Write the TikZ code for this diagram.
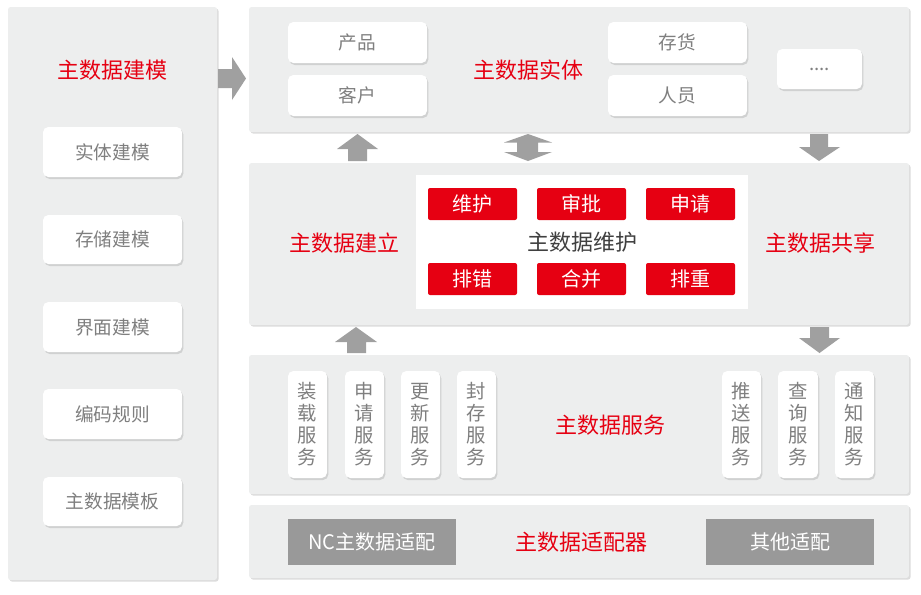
\documentclass[tikz,border=0pt]{standalone}
\usepackage{fontspec}
\setmainfont{Noto Sans CJK SC}
\usetikzlibrary{fit,shadows}
\definecolor{panelgray}{HTML}{EDEEEE}
\definecolor{txtgray}{HTML}{7F7F7F}
\definecolor{darktxt}{HTML}{404040}
\definecolor{mdred}{HTML}{E60012}
\definecolor{arrgray}{HTML}{A0A0A0}
\definecolor{adgray}{HTML}{999999}
\begin{document}
\begin{tikzpicture}[x=0.75pt,y=-0.75pt,
  panel/.style={fill=panelgray, rounded corners=2pt, inner sep=0pt,
    drop shadow={shadow xshift=1.2pt, shadow yshift=-1.2pt, opacity=0.3, fill=black!45}},
  wbox/.style={fill=white, rounded corners=4pt, inner sep=0pt,
    drop shadow={shadow xshift=1pt, shadow yshift=-1.5pt, opacity=0.12, fill=black}},
  redbtn/.style={fill=mdred, rounded corners=1.5pt, inner sep=0pt},
  adbox/.style={fill=adgray, inner sep=0pt},
  title/.style={text=mdred, font=\fontsize{16.5}{19}\selectfont, inner sep=0pt},
  gtext/.style={text=txtgray, font=\fontsize{14}{16}\selectfont, inner sep=0pt},
  vtext/.style={text=txtgray, font=\fontsize{14.5}{16.5}\selectfont, align=center, inner sep=0pt},
  btext/.style={text=white, font=\fontsize{15}{17}\selectfont, inner sep=0pt},
  arr/.style={fill=arrgray}
]
\useasboundingbox[fill=white] (0,0) rectangle (921,594);

% left panel
\node[panel, fit={(8,7) (217,580)}] (left) {};
\node[title] (lt) at (112,70) {主数据建模};
\node[wbox, fit={(43,127) (182,177)}] (m1) {};
\node[gtext] at (m1) {实体建模};
\node[wbox, fit={(43,215) (182,264)}] (m2) {};
\node[gtext] at (m2) {存储建模};
\node[wbox, fit={(43,302) (182,352)}] (m3) {};
\node[gtext] at (m3) {界面建模};
\node[wbox, fit={(43,389) (182,439)}] (m4) {};
\node[gtext] at (m4) {编码规则};
\node[wbox, fit={(43,477) (182,526)}] (m5) {};
\node[gtext] at (m5) {主数据模板};

% entity panel
\node[panel, fit={(249,7) (909,132)}] (ent) {};
\node[title] (et) at (528,70) {主数据实体};
\node[wbox, fit={(288,22) (427,63)}] (e1) {};
\node[gtext] at (e1) {产品};
\node[wbox, fit={(288,75) (427,116)}] (e2) {};
\node[gtext] at (e2) {客户};
\node[wbox, fit={(608,22) (747,63)}] (e3) {};
\node[gtext] at (e3) {存货};
\node[wbox, fit={(608,75) (747,116)}] (e4) {};
\node[gtext] at (e4) {人员};
\node[wbox, fit={(777,49) (862,89)}] (e5) {};
\node[gtext] at (e5) {....};

% maintenance panel
\node[panel, fit={(249,163) (909,325)}] (mid) {};
\node[fill=white, inner sep=0pt, fit={(416,175) (748,309)}] (inner) {};
\node[title] (bt) at (344,243) {主数据建立};
\node[title] (st) at (820,243) {主数据共享};
\node[text=darktxt, font=\fontsize{16.5}{19}\selectfont, inner sep=0pt] (mt) at (582,242) {主数据维护};
\node[redbtn, fit={(428,188) (517,220)}] (r1) {};
\node[btext] at (r1) {维护};
\node[redbtn, fit={(537,188) (626,220)}] (r2) {};
\node[btext] at (r2) {审批};
\node[redbtn, fit={(646,188) (735,220)}] (r3) {};
\node[btext] at (r3) {申请};
\node[redbtn, fit={(428,263) (517,295)}] (r4) {};
\node[btext] at (r4) {排错};
\node[redbtn, fit={(537,263) (626,295)}] (r5) {};
\node[btext] at (r5) {合并};
\node[redbtn, fit={(646,263) (735,295)}] (r6) {};
\node[btext] at (r6) {排重};

% services panel
\node[panel, fit={(249,355) (909,494)}] (svc) {};
\node[title] (svt) at (610,425) {主数据服务};
\node[wbox, fit={(288,371) (327,478)}] (s1) {};
\node[vtext] at (s1) {装\\载\\服\\务};
\node[wbox, fit={(345,371) (384,478)}] (s2) {};
\node[vtext] at (s2) {申\\请\\服\\务};
\node[wbox, fit={(401,371) (440,478)}] (s3) {};
\node[vtext] at (s3) {更\\新\\服\\务};
\node[wbox, fit={(457,371) (496,478)}] (s4) {};
\node[vtext] at (s4) {封\\存\\服\\务};
\node[wbox, fit={(722,371) (761,478)}] (s5) {};
\node[vtext] at (s5) {推\\送\\服\\务};
\node[wbox, fit={(778,371) (818,478)}] (s6) {};
\node[vtext] at (s6) {查\\询\\服\\务};
\node[wbox, fit={(835,371) (874,478)}] (s7) {};
\node[vtext] at (s7) {通\\知\\服\\务};

% adapter panel
\node[panel, fit={(249,505) (909,578)}] (adp) {};
\node[title] (at) at (581,542) {主数据适配器};
\node[adbox, fit={(288,519) (456,565)}] (a1) {};
\node[btext] at (a1) {NC主数据适配};
\node[adbox, fit={(706,519) (874,565)}] (a2) {};
\node[btext] at (a2) {其他适配};

% block arrows
\fill[arr] (218,69) -- (232,69) -- (232,57) -- (246,78.5) -- (232,100) -- (232,88) -- (218,88) -- cycle;
\fill[arr] (357.5,134) -- (378,149) -- (367,149) -- (367,161) -- (348,161) -- (348,149) -- (337,149) -- cycle;
\fill[arr] (528,134) -- (552,142.5) -- (538,142.5) -- (538,152) -- (552,152) -- (528,161)
  -- (504,152) -- (517,152) -- (517,142.5) -- (504,142.5) -- cycle;
\fill[arr] (810,134) -- (828,134) -- (828,147) -- (840,147) -- (819,161) -- (799,147) -- (810,147) -- cycle;
\fill[arr] (356,327) -- (377,342) -- (366,342) -- (366,353) -- (347,353) -- (347,342) -- (335,342) -- cycle;
\fill[arr] (810,327) -- (829,327) -- (829,338) -- (840,338) -- (819.5,353) -- (799,338) -- (810,338) -- cycle;
\end{tikzpicture}
\end{document}
